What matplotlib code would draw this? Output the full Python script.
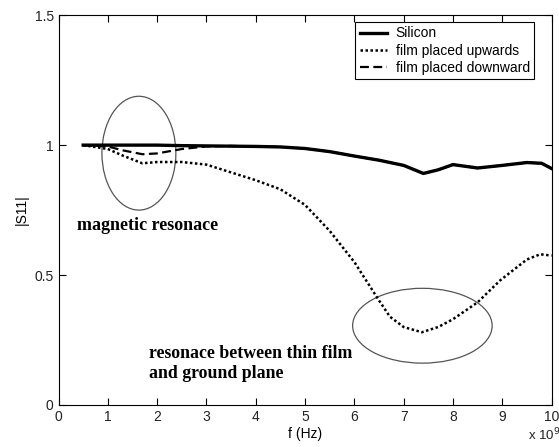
import numpy as np
import matplotlib
matplotlib.use("Agg")
import matplotlib.pyplot as plt
from matplotlib.patches import Ellipse

# frequencies in units of 1e9 Hz
f_si = [0.5, 1, 1.5, 2, 2.5, 3, 3.5, 4, 4.5, 5, 5.5, 6, 6.5, 7, 7.4,
        7.7, 8, 8.5, 9, 9.5, 9.8, 10]
s_si = [1.0, 1.0, 1.0, 1.0, 0.998, 0.997, 0.996, 0.995, 0.993, 0.987, 0.975,
        0.958, 0.942, 0.922, 0.891, 0.905, 0.925, 0.912, 0.922, 0.933, 0.93, 0.91]

f_up = [0.5, 1, 1.3, 1.7, 2, 2.5, 3, 3.5, 4, 4.5, 5, 5.3, 5.5, 6,
        6.46, 6.72, 7, 7.37, 7.7, 8, 8.5, 8.96, 9.5, 9.77, 10]
s_up = [1.0, 0.985, 0.96, 0.93, 0.935, 0.935, 0.925, 0.895, 0.865, 0.83, 0.77,
        0.71, 0.67, 0.55, 0.414, 0.34, 0.30, 0.28, 0.30, 0.33, 0.395, 0.48,
        0.56, 0.58, 0.575]

f_down = [0.5, 1, 1.3, 1.7, 2, 2.5, 3, 3.5, 4, 4.5, 5, 5.5, 6, 6.5,
          7, 7.4, 7.7, 8, 8.5, 9, 9.5, 9.8, 10]
s_down = [1.0, 0.995, 0.98, 0.965, 0.968, 0.985, 0.995, 0.997, 0.995, 0.993,
          0.987, 0.975, 0.958, 0.942, 0.922, 0.891, 0.905, 0.925, 0.912, 0.922,
          0.933, 0.93, 0.91]

plt.rcParams["font.family"] = "Liberation Sans"

fig = plt.figure(figsize=(5.59, 4.47), dpi=100)
ax = fig.add_axes([0.1047, 0.094, 0.882, 0.872])

ax.plot(f_si, s_si, color="black", lw=2.4, label="Silicon")
ax.plot(f_up, s_up, color="black", lw=1.8, ls=(0, (1, 1)), label="film placed upwards")
ax.plot(f_down, s_down, color="black", lw=1.6, ls=(0, (4, 2)), label="film placed downward")

ax.add_patch(Ellipse((1.63, 0.969), 1.5, 0.438, fill=False, ec="#555555", lw=0.9))
ax.add_patch(Ellipse((7.38, 0.305), 2.83, 0.288, fill=False, ec="#555555", lw=0.9))

ax.text(0.375, 0.69, "magnetic resonace", family="Liberation Serif",
        fontweight="bold", fontsize=13, va="center")
ax.text(1.84, 0.16, "resonace between thin film\nand ground plane",
        family="Liberation Serif", fontweight="bold", fontsize=12.8, va="center",
        linespacing=1.25)

ax.set_xlim(0, 10)
ax.set_ylim(0, 1.5)
ax.set_xticks(range(0, 11))
ax.set_yticks([0, 0.5, 1, 1.5])
ax.set_yticklabels(["0", "0.5", "1", "1.5"])
ax.tick_params(direction="in", top=True, right=True, labelsize=10, length=5,
               labelcolor="#222222")
ax.set_xlabel("f (Hz)", fontsize=10, labelpad=2)
ax.set_ylabel("|S11|", fontsize=10)
fig.text(0.944, 0.008, r"x 10$^9$", fontsize=9.5, ha="left", va="bottom", color="#222222")

leg = ax.legend(loc="upper right", bbox_to_anchor=(0.9645, 0.982), borderaxespad=0,
                fontsize=10, fancybox=False, edgecolor="black", framealpha=1,
                handlelength=2.0, handletextpad=0.6, labelspacing=0.25,
                borderpad=0.3)
leg.get_frame().set_linewidth(0.8)

fig.savefig("out.png", dpi=100)
